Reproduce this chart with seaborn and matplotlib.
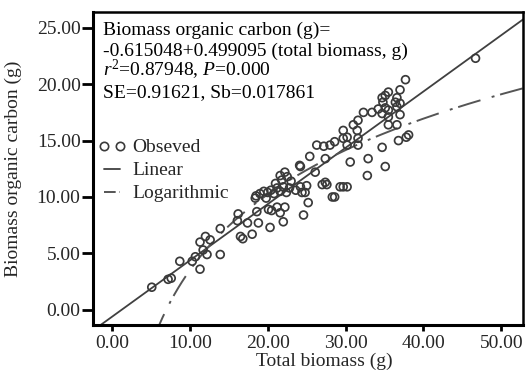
import numpy as np
import pandas as pd
import matplotlib
matplotlib.use("Agg")
import matplotlib.pyplot as plt
from matplotlib.lines import Line2D
import seaborn as sns

# ---- data ----
total_biomass = [
    5.1, 7.2, 7.6, 8.7, 10.3, 11.3, 10.7, 12.2, 11.7, 11.3, 12.0, 12.6, 13.9, 13.9,
    16.2, 16.1, 16.5, 16.8, 18.0, 17.4, 18.6, 18.4, 20.1, 20.3, 21.6, 22.0, 22.2, 21.2,
    24.6, 25.2, 24.8, 28.3, 29.3, 30.2, 27.0, 27.4,
    19.0, 19.5, 20.0, 20.4, 20.8, 21.2, 21.6, 22.0, 22.4, 22.8, 21.0, 21.8, 22.5, 22.2,
    21.6, 23.0, 19.8, 18.5, 23.6, 24.2, 25.0, 24.2, 24.4,
    26.3, 28.0, 30.2, 31.6, 34.7, 25.4, 27.4, 30.6, 32.9, 35.1, 24.1, 26.1, 32.8,
    27.6, 29.7, 28.6,
    46.7, 37.7, 37.0, 35.5, 35.1, 34.7, 34.8, 36.6, 36.4, 37.0, 35.1, 35.5, 36.6,
    32.3, 33.4, 34.2, 34.7, 35.5, 37.0, 31.6, 31.0, 31.5, 35.5, 36.6,
    29.7, 30.2, 29.7, 28.6, 31.6, 36.8, 38.1, 37.8, 27.2, 20.5, 18.8,
]
organic_carbon = [
    2.0, 2.7, 2.8, 4.3, 4.3, 3.6, 4.7, 4.9, 5.3, 6.0, 6.5, 6.2, 4.9, 7.2,
    8.5, 7.9, 6.5, 6.3, 6.7, 7.7, 8.7, 9.9, 8.9, 7.3, 8.6, 7.8, 9.1, 9.1,
    8.4, 9.5, 10.4, 10.0, 10.9, 10.9, 11.1, 11.3,
    10.3, 10.5, 10.4, 10.6, 10.3, 10.8, 10.5, 10.9, 10.4, 10.8, 11.2, 11.5, 11.8, 12.2,
    11.9, 11.4, 9.9, 10.1, 10.6, 10.9, 11.0, 12.7, 10.4,
    14.6, 14.6, 14.6, 14.6, 14.4, 13.6, 13.4, 13.1, 13.4, 12.7, 12.8, 12.2, 11.9,
    11.1, 10.9, 10.0,
    22.3, 20.4, 19.5, 19.3, 19.0, 18.8, 18.4, 18.8, 18.4, 18.3, 17.9, 17.7, 18.0,
    17.5, 17.5, 17.8, 17.4, 17.1, 17.3, 16.8, 16.4, 15.9, 16.4, 16.4,
    15.9, 15.3, 15.2, 14.9, 15.2, 15.0, 15.5, 15.3, 14.5, 8.8, 7.7,
]

x_ticks = [0, 10, 20, 30, 40, 50]
y_ticks = [0, 5, 10, 15, 20, 25]

# fitted model coefficients (linear from the printed equation, log estimated)
LIN_A, LIN_B = -0.615048, 0.499095
LOG_A, LOG_B = -18.8, 9.69

annotation_lines = [
    "Biomass organic carbon (g)=",
    "-0.615048+0.499095 (total biomass, g)",
    "$r^2$=0.87948, $P$=0.000",
    "SE=0.91621, Sb=0.017861",
]
legend_labels = ["Obseved", "Linear", "Logarithmic"]

# ---- style ----
sns.set_theme(style="white")
plt.rcParams["font.family"] = ["Liberation Serif", "DejaVu Serif"]
plt.rcParams["mathtext.fontset"] = "custom"
plt.rcParams["mathtext.rm"] = "Liberation Serif"
plt.rcParams["mathtext.it"] = "Liberation Serif:italic"

FS = 14
fig = plt.figure(figsize=(5.28, 3.74), dpi=100)
ax = fig.add_axes([93 / 528, 1 - 325 / 374, 430 / 528, 313 / 374])

df = pd.DataFrame({"x": total_biomass, "y": organic_carbon})
sns.scatterplot(data=df, x="x", y="y", ax=ax, marker="o", s=32,
                facecolor="none", edgecolor="#3a3a3a", linewidth=1.25,
                legend=False, zorder=3)

x_lin = np.linspace(-3, 55, 200)
lin_df = pd.DataFrame({"x": x_lin, "y": LIN_A + LIN_B * x_lin})
sns.lineplot(data=lin_df, x="x", y="y", ax=ax, color="#404040", linewidth=1.3,
             zorder=2)

x_log = np.linspace(5.5, 55, 200)
log_df = pd.DataFrame({"x": x_log, "y": LOG_A + LOG_B * np.log(x_log)})
log_ls = (0, (12, 6, 1.5, 3))
sns.lineplot(data=log_df, x="x", y="y", ax=ax, color="#555555", linewidth=1.4,
             linestyle=log_ls, zorder=2)

ax.set_xlim(-2.45, 52.8)
ax.set_ylim(-1.35, 26.4)
ax.set_xticks(x_ticks)
ax.set_yticks(y_ticks)
ax.set_xticklabels([f"{v:.2f}" for v in x_ticks], fontsize=FS)
ax.set_yticklabels([f"{v:.2f}" for v in y_ticks], fontsize=FS)
ax.tick_params(axis="x", direction="out", length=4, width=2, pad=3, color="black",
               bottom=True)
ax.tick_params(axis="y", direction="out", length=8, width=2, pad=1, color="black",
               left=True)
for side, sp in ax.spines.items():
    sp.set_visible(True)
    sp.set_color("black")
    sp.set_linewidth(2.2 if side in ("left", "bottom") else 1.8)

ax.set_xlabel("Total biomass (g)", fontsize=FS)
ax.set_ylabel("Biomass organic carbon (g)", fontsize=FS)
ax.xaxis.set_label_coords(0.537, -0.088)
ax.yaxis.set_label_coords(-0.165, 0.5)

baselines = [0.9265, 0.859, 0.7955, 0.728]
for txt, yb in zip(annotation_lines, baselines):
    ax.text(0.023, yb, txt, transform=ax.transAxes, fontsize=FS, va="baseline",
            ha="left", color="black")

handles = [
    Line2D([], [], marker="o", ls="none", mfc="none", mec="#3a3a3a", mew=1.2,
           markersize=6),
    Line2D([], [], color="#404040", lw=1.3),
    Line2D([], [], color="#555555", lw=1.4, ls=(0, (6, 2, 3, 2))),
]
ax.legend(handles, legend_labels, loc="upper left",
          bbox_to_anchor=(-0.005, 0.62), frameon=False, fontsize=FS,
          numpoints=2, handlelength=1.4, handletextpad=0.35,
          labelspacing=0.28, borderaxespad=0.2, borderpad=0.2)

fig.savefig("out.png", dpi=100)
